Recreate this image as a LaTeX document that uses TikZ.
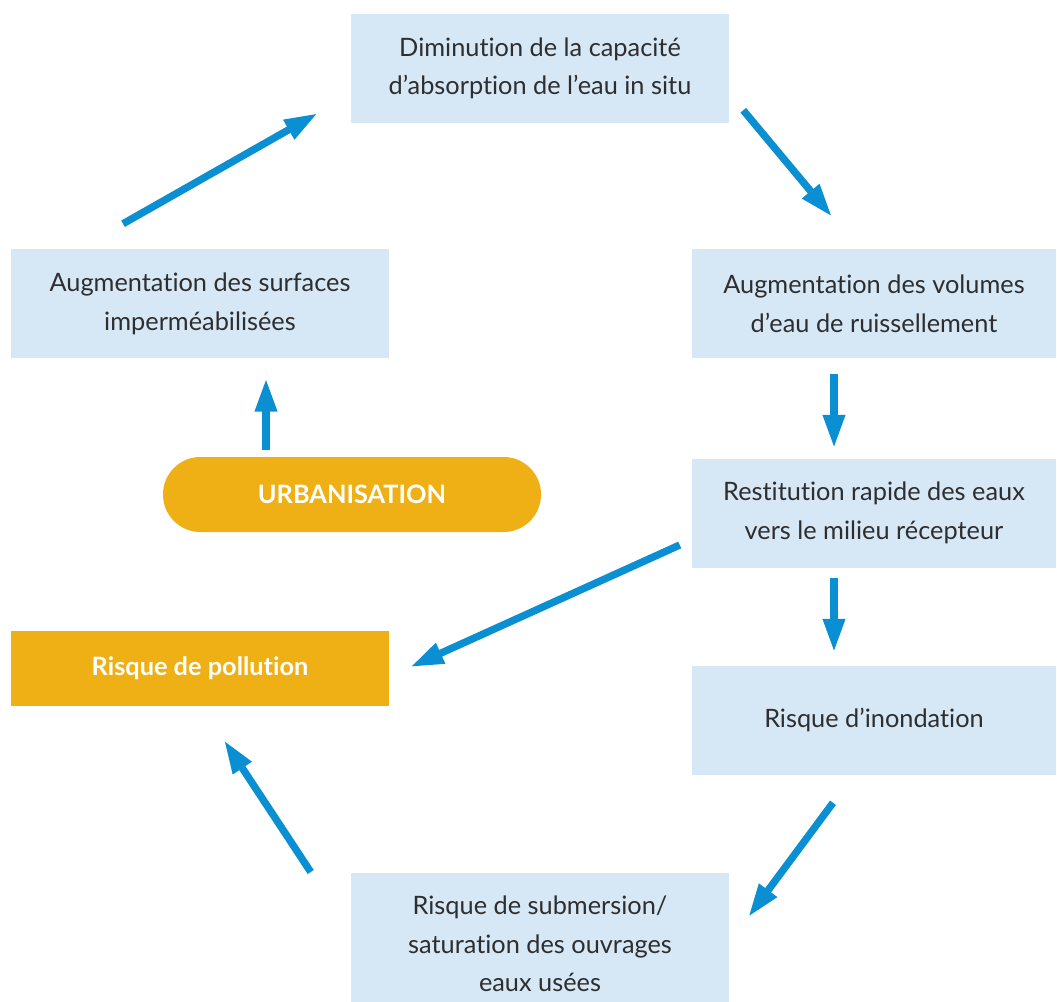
\documentclass[tikz,border=0pt]{standalone}
\usepackage{fontspec}
\setmainfont{Lato}[RawFeature=-liga]
\usetikzlibrary{arrows.meta}

\definecolor{boxblue}{HTML}{D6E7F6}
\definecolor{flowblue}{HTML}{0A8FD2}
\definecolor{urbgold}{HTML}{EFB016}
\definecolor{textgrey}{HTML}{2E2E2E}

\tikzset{
  box/.style={fill=boxblue, text=textgrey, align=center, inner sep=0pt,
    minimum width=283.5pt, minimum height=81.75pt,
    font=\fontsize{19}{29}\selectfont},
  widebox/.style={box, minimum width=273pt},
  goldbox/.style={fill=urbgold, text=white, align=center, inner sep=0pt,
    minimum width=283.5pt, minimum height=56.25pt,
    font=\fontsize{19}{29}\selectfont\bfseries},
  flow/.style={draw=flowblue, line width=5.5pt,
    -{Triangle[length=25pt,width=15.5pt]}},
}

\begin{document}
\begin{tikzpicture}[x=0.75pt, y=-0.75pt]
  \useasboundingbox (0,0) rectangle (1057,1001);

  \node[box]                         (dim)  at (540,68.5)  {Diminution de la capacité\\d’absorption de l’eau in situ};
  \node[box]                         (surf) at (200,303.5) {Augmentation des surfaces\\imperméabilisées};
  \node[widebox]                     (vol)  at (874,303.5) {Augmentation des volumes\\d’eau de ruissellement};
  \node[widebox]                     (rest) at (874,513)   {Restitution rapide des eaux\\vers le milieu récepteur};
  \node[widebox]                     (inon) at (874,720)   {Risque d’inondation};
  \node[box, minimum height=106.5pt] (subm) at (540,944)   {Risque de submersion/\\saturation des ouvrages\\eaux usées};
  \node[goldbox]                     (poll) at (200,668.5) {Risque de pollution};
  \node[goldbox, rounded corners=28pt] (urb) at (352,494.5) {URBANISATION};

  \draw[flow] ([shift={(-77,-25)}]surf.north)     -- ([shift={(-33,-10)}]dim.south west);
  \draw[flow] ([shift={(14,-13)}]dim.south east)  -- ([shift={(-42,-32)}]vol.north);
  \draw[flow] ([shift={(-40,16)}]vol.south)       -- ([shift={(-40,-10)}]rest.north);
  \draw[flow] ([shift={(-40,10)}]rest.south)      -- ([shift={(-40,-13)}]inon.north);
  \draw[flow] ([shift={(-12,32)}]rest.west)       -- ([shift={(21,-1.5)}]poll.east);
  \draw[flow] ([shift={(-41,28)}]inon.south)      -- ([shift={(19,-27)}]subm.east);
  \draw[flow] ([shift={(-40,-72)}]subm.west)      -- ([shift={(24,34)}]poll.south);
  \draw[flow] ([shift={(-86,-7)}]urb.north)       -- ([shift={(66,20)}]surf.south);
\end{tikzpicture}
\end{document}
